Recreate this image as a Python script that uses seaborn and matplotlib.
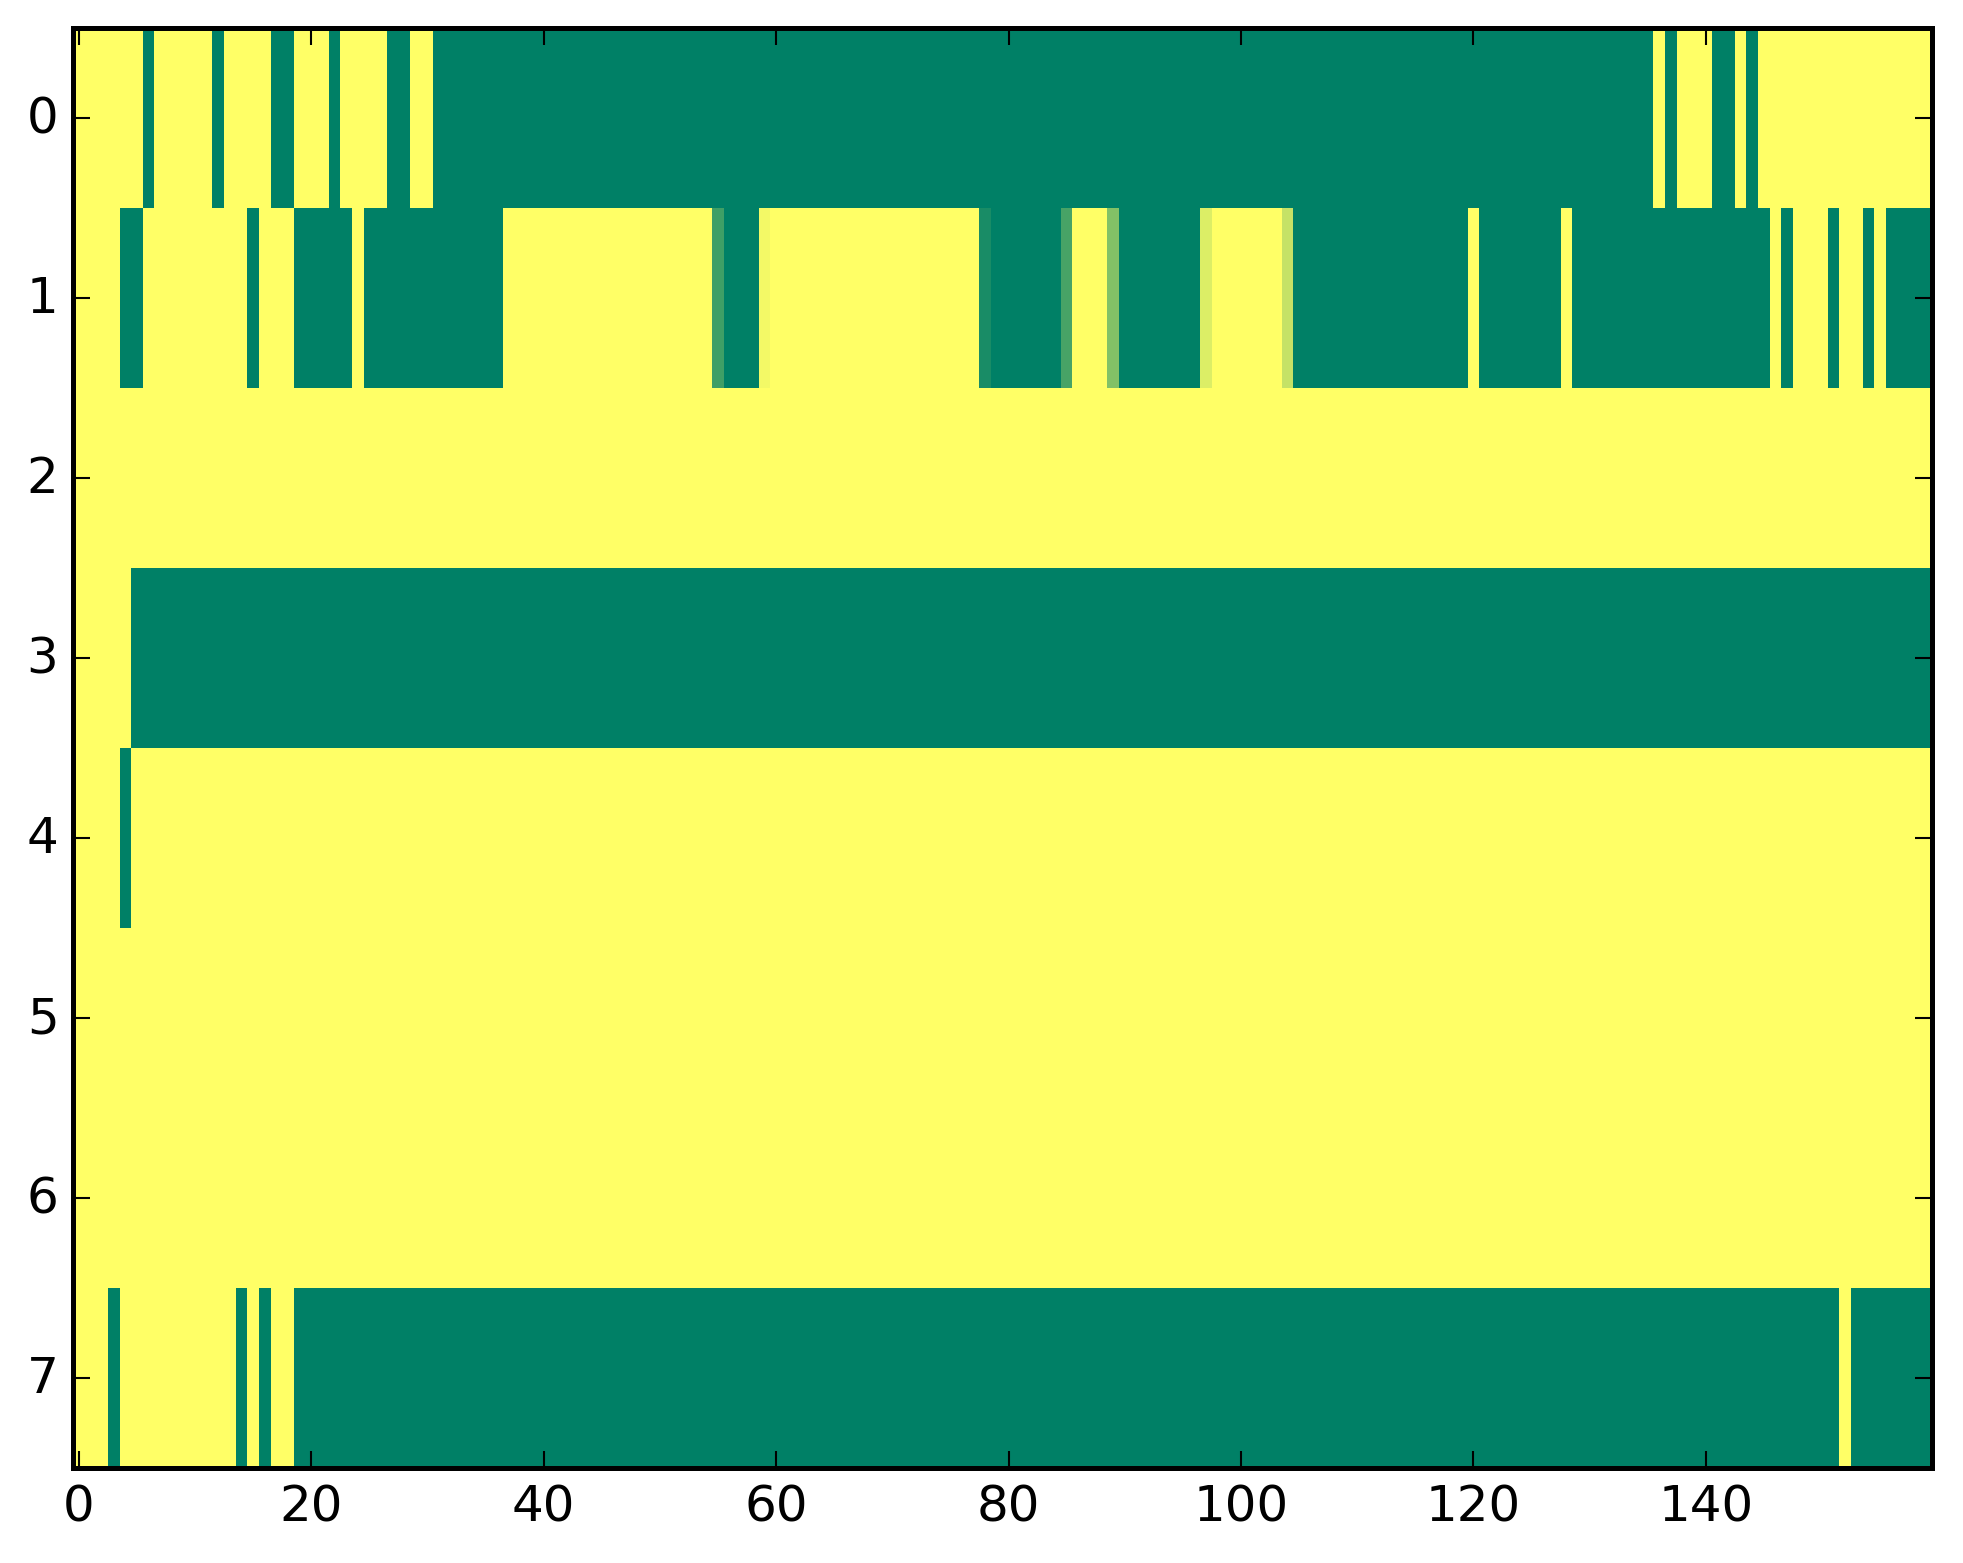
import numpy as np
import seaborn as sns
import matplotlib
matplotlib.use('Agg')
import matplotlib.pyplot as plt

# number of columns / rows in the grid
n_cols = 160
n_rows = 8

# runs of full cells per row, (first column, last column)
row_0_runs = [(6, 6), (12, 12), (17, 18), (22, 22), (27, 28), (31, 135), (137, 137), (141, 142), (144, 144)]
row_1_runs = [(4, 5), (15, 15), (19, 23), (25, 36), (56, 58), (79, 84), (90, 96), (105, 119), (121, 127),
              (129, 145), (147, 147), (151, 151), (154, 154), (156, 159)]
row_2_runs = []
row_3_runs = [(5, 159)]
row_4_runs = [(4, 4)]
row_5_runs = []
row_6_runs = []
row_7_runs = [(3, 3), (14, 14), (16, 16), (19, 151), (153, 159)]

# the few in-between cells of row 1
partial_columns = [55, 59, 78, 85, 89, 97, 104]
partial_values = [0.75, 0.05, 0.90, 0.72, 0.49, 0.14, 0.23]

x_tick_labels = [0, 20, 40, 60, 80, 100, 120, 140]
y_tick_labels = [0, 1, 2, 3, 4, 5, 6, 7]

all_runs = [row_0_runs, row_1_runs, row_2_runs, row_3_runs,
            row_4_runs, row_5_runs, row_6_runs, row_7_runs]

grid = np.zeros((n_rows, n_cols))
for row, runs in enumerate(all_runs):
    for first, last in runs:
        grid[row, first:last + 1] = 1
for col, val in zip(partial_columns, partial_values):
    grid[1, col] = val

# old matplotlib look: ticks inside, on all four sides
plt.rcParams['xtick.direction'] = 'in'
plt.rcParams['ytick.direction'] = 'in'
plt.rcParams['xtick.top'] = True
plt.rcParams['ytick.right'] = True
plt.rcParams['xtick.major.size'] = 4
plt.rcParams['ytick.major.size'] = 4
plt.rcParams['xtick.major.width'] = 0.5
plt.rcParams['ytick.major.width'] = 0.5
plt.rcParams['ytick.major.pad'] = 3.5
plt.rcParams['axes.linewidth'] = 1.2

fig = plt.figure(figsize=(1963 / 300, 1564 / 300), dpi=300)
ax = fig.add_axes([0.0372, 0.0607, 0.9472, 0.9205])

sns.heatmap(grid, cmap='summer_r', vmin=0, vmax=1, cbar=False, ax=ax)

ax.set_xticks(np.array(x_tick_labels) + 0.5)
ax.set_xticklabels(x_tick_labels, rotation=0, fontsize=12)
ax.set_yticks(np.array(y_tick_labels) + 0.5)
ax.set_yticklabels(y_tick_labels, rotation=0, fontsize=12)
for spine in ax.spines.values():
    spine.set_visible(True)

fig.savefig('out.png', dpi=300)
plt.close()
